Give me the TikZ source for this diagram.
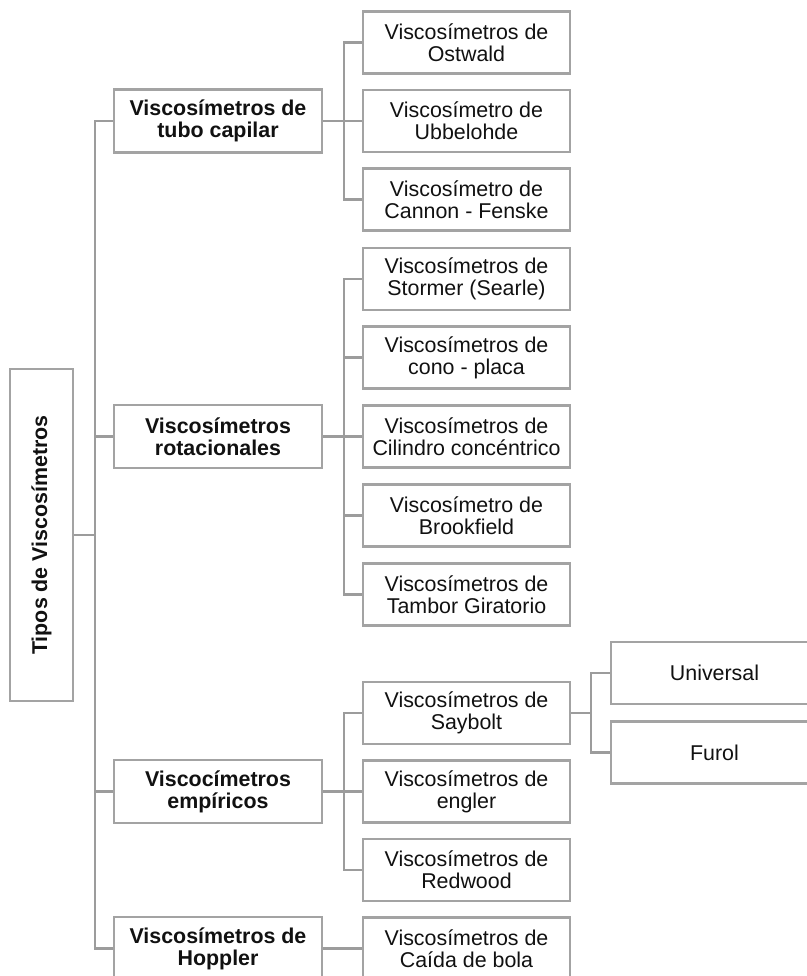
\documentclass[tikz,border=0pt]{standalone}
\usepackage{fontspec}
\setmainfont{Liberation Sans}
\usetikzlibrary{positioning}
\definecolor{vsEdge}{HTML}{A3A3A3}
\definecolor{vsLink}{HTML}{9C9C9C}
\definecolor{vsInk}{HTML}{111111}
\tikzset{
 arbol/.style={font=\fontsize{10.7}{11}\selectfont,text=vsInk,line cap=butt,line join=miter},
 caja/.style={rectangle,draw=vsEdge,fill=white,line width=1.15pt,align=center,inner sep=1pt},
 tipo/.style={caja,rotate=90,font=\fontsize{10.7}{11}\selectfont\bfseries,minimum width=166pt,minimum height=31.5pt},
 grupo/.style={caja,font=\fontsize{10.7}{11}\selectfont\bfseries,minimum width=104pt,minimum height=31.5pt},
 hoja/.style={caja,minimum width=103.5pt,minimum height=31pt},
 enlace/.style={draw=vsLink,line width=1.1pt}
}

\begin{document}
\begin{tikzpicture}[arbol,x=.5pt,y=-.5pt]
 \useasboundingbox (0,0) rectangle (807,976);
 % raiz
 \node[tipo] (raiz) at (41.5,535) {Tipos de Viscosímetros};
 % grupos
 \node[grupo] (tubo) at (218,121) {Viscosímetros de\\tubo capilar};
 \node[grupo] (rot) at (218,436.5) {Viscosímetros\\rotacionales};
 \node[grupo] (emp) at (218,791.5) {Viscocímetros\\empíricos};
 \node[grupo] (hop) at (218,948.5) {Viscosímetros de\\Hoppler};
 % tubo capilar
 \node[hoja] (ostwald) at (466.5,42.5) {Viscosímetros de\\Ostwald};
 \node[hoja] (ubbel) at (466.5,121) {Viscosímetro de\\Ubbelohde};
 \node[hoja] (cannon) at (466.5,199.5) {Viscosímetro de\\Cannon - Fenske};
 % rotacionales
 \node[hoja] (stormer) at (466.5,279) {Viscosímetros de\\Stormer (Searle)};
 \node[hoja] (cono) at (466.5,357.5) {Viscosímetros de\\cono - placa};
 \node[hoja] (cilindro) at (466.5,436.5) {Viscosímetros de\\Cilindro concéntrico};
 \node[hoja] (brook) at (466.5,515.5) {Viscosímetro de\\Brookfield};
 \node[hoja] (tambor) at (466.5,594.5) {Viscosímetros de\\Tambor Giratorio};
 % empiricos
 \node[hoja] (saybolt) at (466.5,713) {Viscosímetros de\\Saybolt};
 \node[hoja] (engler) at (466.5,791.5) {Viscosímetros de\\engler};
 \node[hoja] (redwood) at (466.5,870) {Viscosímetros de\\Redwood};
 \node[hoja] (caida) at (466.5,948.5) {Viscosímetros de\\Caída de bola};
 % saybolt
 \node[hoja] (universal) at (714.5,673) {Universal};
 \node[hoja] (furol) at (714.5,752.5) {Furol};
 % enlaces
 \foreach \g in {tubo,rot,emp,hop}
  \draw[enlace] (raiz.south) -- ++(21,0) |- (\g.west);
 \foreach \h in {ostwald,ubbel,cannon}
  \draw[enlace] (tubo.east) -- ++(21,0) |- (\h.west);
 \foreach \h in {stormer,cono,cilindro,brook,tambor}
  \draw[enlace] (rot.east) -- ++(21,0) |- (\h.west);
 \foreach \h in {saybolt,engler,redwood}
  \draw[enlace] (emp.east) -- ++(21,0) |- (\h.west);
 \draw[enlace] (hop.east) -- (caida.west);
 \foreach \h in {universal,furol}
  \draw[enlace] (saybolt.east) -- ++(20,0) |- (\h.west);
\end{tikzpicture}
\end{document}
